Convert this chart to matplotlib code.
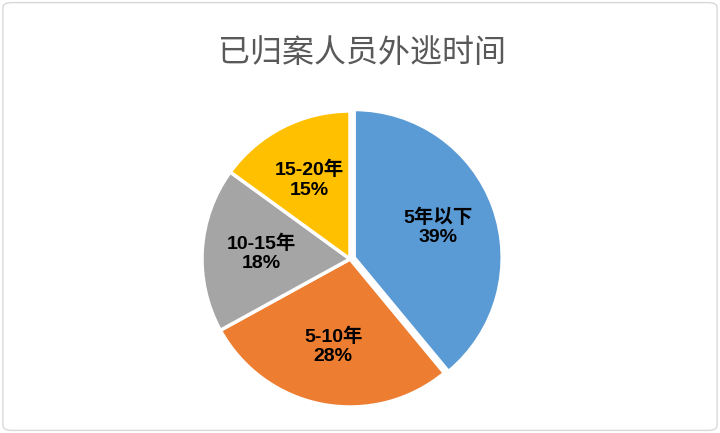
import matplotlib
matplotlib.use('Agg')
from matplotlib import pyplot as plt
from matplotlib.patches import FancyBboxPatch

plt.rcParams['font.family'] = ['Liberation Sans', 'Noto Sans CJK SC', 'DejaVu Sans']

title = '已归案人员外逃时间'
categories = ['5年以下', '5-10年', '10-15年', '15-20年']
shares = [39, 28, 18, 15]
colors = ['#5B9BD5', '#ED7D31', '#A5A5A5', '#FFC000']
explode = [0.03, 0, 0, 0]

fig = plt.figure(figsize=(7.2, 4.33), dpi=100)

# light rounded frame around the chart area
frame = FancyBboxPatch((0.004, 0.006), 0.992, 0.988,
                       boxstyle='round,pad=0,rounding_size=0.012',
                       transform=fig.transFigure, facecolor='none',
                       edgecolor='#D9D9D9', linewidth=1.0, zorder=-1)
fig.patches.append(frame)

fig.text(0.503, 0.878, title, ha='center', va='center', fontsize=23,
         color='#595959', family=['Noto Sans CJK SC', 'DejaVu Sans'])

r = 148
ax = fig.add_axes([(350 - r) / 720, (174 - r) / 433, 2 * r / 720, 2 * r / 433])
labels_iter = iter(categories)


def fmt(pct):
    return f'{next(labels_iter)}\n{pct:.0f}%'


wedges, texts, autotexts = ax.pie(
    shares, colors=colors, explode=explode, startangle=90, counterclock=False,
    autopct=fmt, pctdistance=0.6,
    wedgeprops=dict(edgecolor='white', linewidth=2.5))
for t in autotexts:
    t.set_fontsize(14)
    t.set_fontweight('bold')
    t.set_color('black')
    t.set_linespacing(1.2)
ax.set_xlim(-1, 1)
ax.set_ylim(-1, 1)
ax.set_aspect('equal')
ax.axis('off')
for w in wedges:
    w.set_clip_on(False)

fig.savefig('out.png', dpi=100)
